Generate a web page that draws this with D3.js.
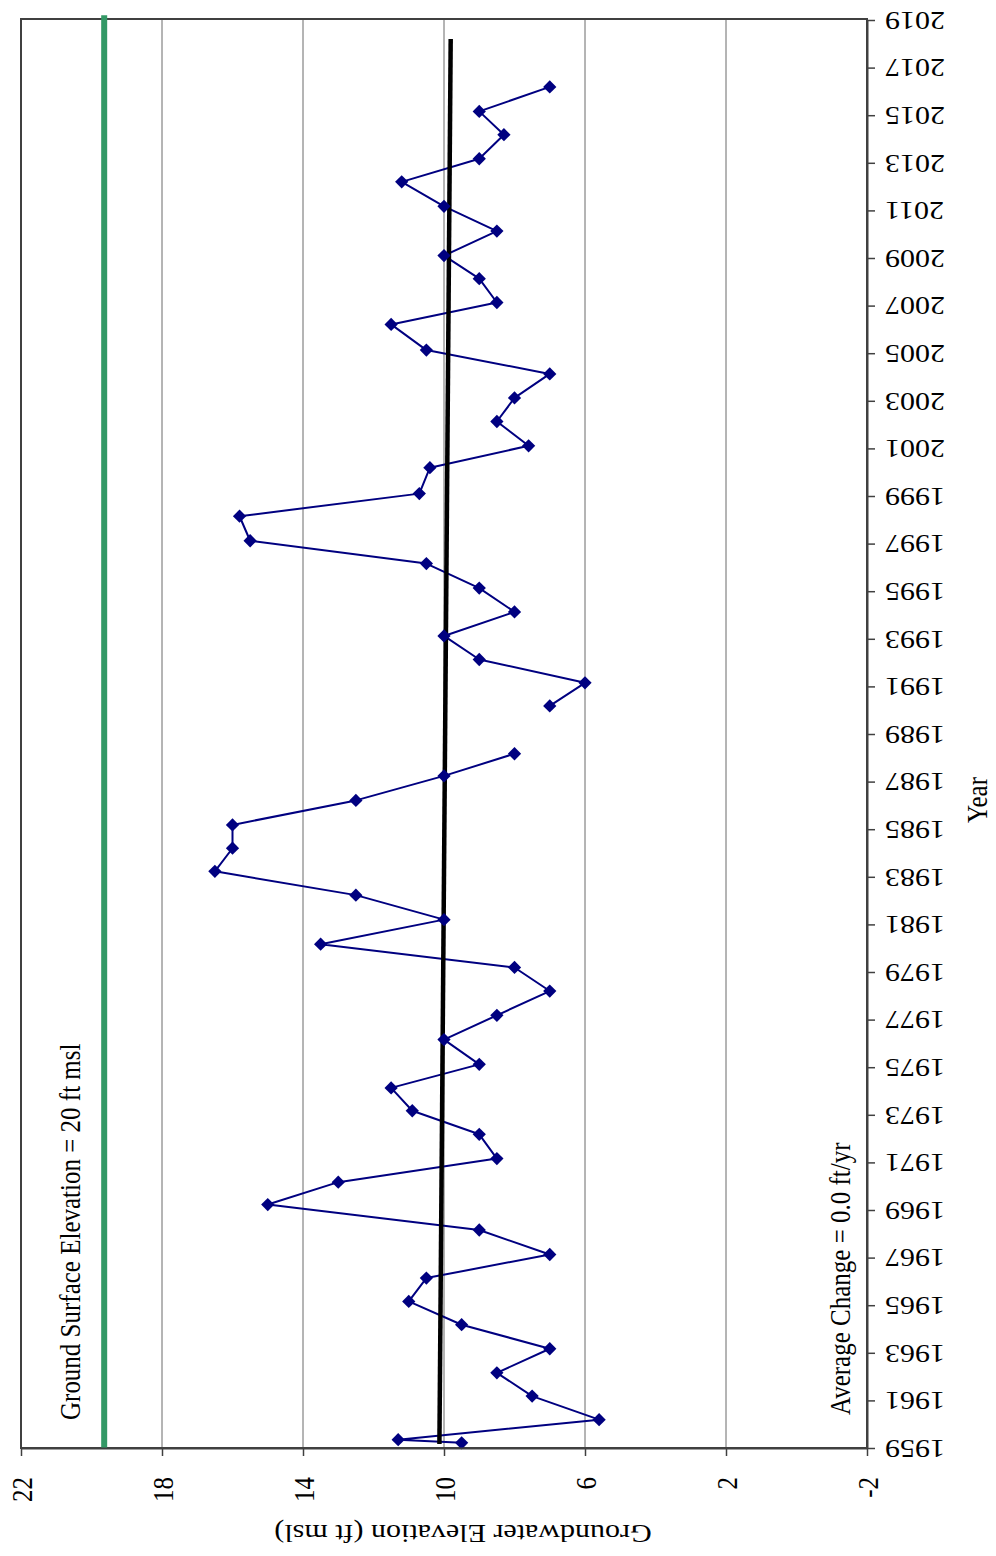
<!DOCTYPE html>
<html><head><meta charset="utf-8">
<script src="https://cdn.jsdelivr.net/npm/d3@7"></script>
<style>
body{margin:0;background:#fff}
svg{display:block}
text{font-family:"Liberation Serif","Times New Roman",serif;fill:#000}
</style>
</head><body>
<svg id="c" width="996" height="1556"></svg>
<script>
// ---- data ----
const sampleYears = [1959.22,1959.35,1960.19,1961.18,1962.16,1963.17,1964.18,1965.16,1966.14,1967.13,
  1968.16,1969.23,1970.17,1971.16,1972.18,1973.17,1974.13,1975.12,1976.16,1977.18,
  1978.2,1979.19,1980.17,1981.2,1982.23,1983.23,1984.2,1985.18,1986.21,1987.24,
  1988.17,1990.18,1991.15,1992.13,1993.12,1994.13,1995.13,1996.16,1997.12,1998.15,
  1999.1,2000.19,2001.11,2002.13,2003.12,2004.13,2005.13,2006.21,2007.13,2008.13,
  2009.1,2010.13,2011.17,2012.2,2013.17,2014.18,2015.16,2016.19];
const elevations = [9.5,11.3,5.6,7.5,8.5,7.0,9.5,11.0,10.5,7.0,
  9.0,15.0,13.0,8.5,9.0,10.9,11.5,9.0,10.0,8.5,
  7.0,8.0,13.5,10.0,12.5,16.5,16.0,16.0,12.5,10.0,
  8.0,7.0,6.0,9.0,10.0,8.0,9.0,10.5,15.5,15.8,
  10.7,10.4,7.6,8.5,8.0,7.0,10.5,11.5,8.5,9.0,
  10.0,8.5,10.0,11.2,9.0,8.3,9.0,7.0];
const trendYears = [1959.17, 2018.2];
const trendValues = [10.13, 9.81];
const groundYears = [1959, 2019.2];
const groundValues = [19.64, 19.64];
const yearTicks = [1959,1961,1963,1965,1967,1969,1971,1973,1975,1977,1979,1981,1983,1985,1987,1989,
  1991,1993,1995,1997,1999,2001,2003,2005,2007,2009,2011,2013,2015,2017,2019];
const elevTicks = [22,18,14,10,6,2,-2];
const gridValues = [18,14,10,6,2];
const valueTitle = "Groundwater Elevation (ft msl)";
const yearTitle = "Year";
const groundLabel = "Ground Surface Elevation = 20 ft msl";
const changeLabel = "Average Change = 0.0 ft/yr";

// ---- layout ----
const L = 21, R = 867, T = 20, B = 1448;
const FS = 25, SX = 1.2;
const svg = d3.select("#c");
const x = d3.scaleLinear().domain([22, -2]).range([L, R]);
const y = d3.scaleLinear().domain([1959, 2019]).range([B, T]);

// gridlines
svg.append("g").selectAll("line").data(gridValues).join("line")
  .attr("x1", d => x(d)).attr("x2", d => x(d))
  .attr("y1", T).attr("y2", B)
  .attr("stroke", "#6a6a6a").attr("stroke-width", 1);

// plot border
svg.append("rect").attr("x", L).attr("y", T - 1).attr("width", R - L).attr("height", B - T + 1)
  .attr("fill", "none").attr("stroke", "#404040").attr("stroke-width", 2);

// ground surface line
const ground = groundYears.map((t, i) => ({t, v: groundValues[i]}));
svg.append("path").datum(ground)
  .attr("d", d3.line().x(d => x(d.v)).y(d => y(d.t)))
  .attr("stroke", "#339966").attr("stroke-width", 6).attr("fill", "none");

// series (broken where a year of readings is missing)
const series = sampleYears.map((t, i) => ({t, v: elevations[i]}));
const segments = [];
series.forEach((d, i) => {
  if (i === 0 || d.t - series[i - 1].t > 1.5) segments.push([]);
  segments[segments.length - 1].push(d);
});
const line = d3.line().x(d => x(d.v)).y(d => y(d.t));
svg.append("g").selectAll("path").data(segments).join("path")
  .attr("d", line)
  .attr("stroke", "#000080").attr("stroke-width", 2).attr("fill", "none")
  .attr("stroke-linejoin", "round");

// trend line
const trend = trendYears.map((t, i) => ({t, v: trendValues[i]}));
svg.append("path").datum(trend)
  .attr("d", line)
  .attr("stroke", "#000").attr("stroke-width", 4.5).attr("fill", "none");

// markers
const sym = d3.symbol(d3.symbolSquare, 88);
svg.append("g").selectAll("path").data(series).join("path")
  .attr("d", sym)
  .attr("transform", d => `translate(${x(d.v)},${y(d.t)}) rotate(45)`)
  .attr("fill", "#000080");

// axes
const gx = svg.append("g").attr("transform", `translate(0,${B})`)
  .call(d3.axisBottom(x).tickValues(elevTicks).tickSize(8).tickSizeOuter(0).tickFormat(d => String(d)));
const gy = svg.append("g").attr("transform", `translate(${R},0)`)
  .call(d3.axisRight(y).tickValues(yearTicks).tickSize(8).tickSizeOuter(0).tickFormat(d => String(d)));
[gx, gy].forEach(g => {
  g.attr("font-family", null).attr("font-size", null);
  g.select(".domain").attr("stroke", "#404040").attr("stroke-width", 2);
  g.selectAll(".tick line").attr("stroke", "#404040").attr("stroke-width", 1.5);
  g.selectAll(".tick text").attr("x", null).attr("y", null).attr("dy", "0.35em")
    .attr("font-size", FS).attr("fill", "#000").attr("text-anchor", "end");
});
gx.selectAll(".tick text").attr("transform", `translate(0,29) scale(${SX},1) rotate(-90)`);
gy.selectAll(".tick text").attr("transform", `translate(18,0) scale(${SX},1) rotate(180)`);

// titles & annotations
function label(txt, tx, ty, rot, anchor, dy) {
  svg.append("text").text(txt)
    .attr("transform", `translate(${tx},${ty}) scale(${SX},1) rotate(${rot})`)
    .attr("text-anchor", anchor).attr("dy", dy).attr("font-size", FS);
}
label(valueTitle, 463, 1534, 180, "middle", "0.35em");
label(yearTitle, 987, 800, -90, "middle", "0");
label(groundLabel, 80, 1420, -90, "start", "0");
label(changeLabel, 850, 1415, -90, "start", "0");
</script>
</body></html>
